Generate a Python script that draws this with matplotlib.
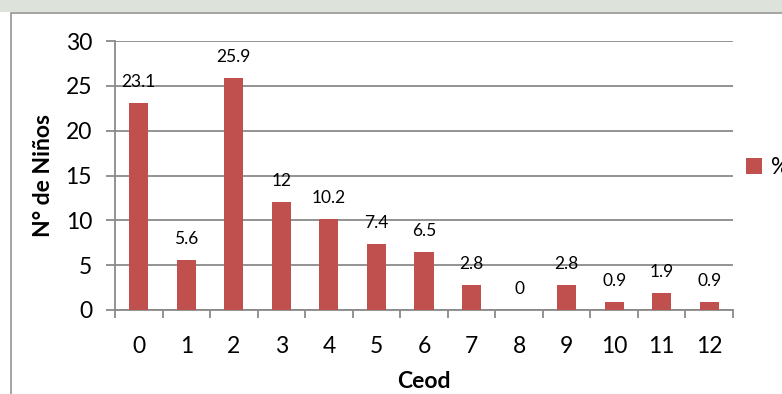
import matplotlib
matplotlib.use("Agg")
import matplotlib.pyplot as plt
from matplotlib.patches import Rectangle
import numpy as np

# Ceod index (number of decayed / extracted / filled primary teeth) and share of children
ceod = [0, 1, 2, 3, 4, 5, 6, 7, 8, 9, 10, 11, 12]
porcentaje = [23.1, 5.6, 25.9, 12, 10.2, 7.4, 6.5, 2.8, 0, 2.8, 0.9, 1.9, 0.9]
y_ticks = [0, 5, 10, 15, 20, 25, 30]
serie = "%"

W, H = 782, 394
plt.rcParams["font.family"] = ["Lato", "DejaVu Sans"]

fig = plt.figure(figsize=(W / 100, H / 100), dpi=100, facecolor="white")

# faint strip above the chart frame and the frame itself
fig.add_artist(Rectangle((0, 1 - 12 / H), 1, 12 / H, transform=fig.transFigure,
                         facecolor="#dde2da", edgecolor="none", zorder=0))
fig.add_artist(Rectangle((10.5 / W, -0.05), 1.1, 1 - 12.5 / H + 0.05,
                         transform=fig.transFigure, facecolor="white",
                         edgecolor="#8c8c8c", linewidth=1.1, zorder=0.5))

left, right = 115 / W, 733 / W
bottom, top = 1 - 310 / H, 1 - 41 / H
ax = fig.add_axes([left, bottom, right - left, top - bottom])
ax.set_zorder(2)
ax.set_facecolor("none")

grid_c = "#8a8a8a"
x = np.arange(len(ceod))
bars = ax.bar(x, porcentaje, width=0.4, color="#C0504D", zorder=3, label=serie)

for xi, v in zip(x, porcentaje):
    ax.annotate(f"{v:g}", (xi, v), xytext=(0, 11.5), textcoords="offset points",
                ha="center", va="baseline", fontsize=12.5, color="black")

ax.set_xlim(-0.5, len(ceod) - 0.5)
ax.set_ylim(0, 30)
ax.set_yticks(y_ticks)
ax.set_yticklabels([str(t) for t in y_ticks], fontsize=16.5)
ax.yaxis.grid(True, color=grid_c, linewidth=1.3, zorder=1)
ax.set_axisbelow(True)

ax.set_xticks(x)
ax.set_xticklabels([str(c) for c in ceod], fontsize=16.5)
ax.set_xticks(np.arange(-0.5, len(ceod), 1), minor=True)
ax.tick_params(axis="x", which="major", length=0, pad=19)
ax.tick_params(axis="x", which="minor", length=5.5, width=1.3, color=grid_c)
ax.tick_params(axis="y", which="major", length=6.5, width=1.3, color=grid_c, pad=10)

for s in ["top", "right"]:
    ax.spines[s].set_visible(False)
for s in ["left", "bottom"]:
    ax.spines[s].set_color(grid_c)
    ax.spines[s].set_linewidth(1.3)

ax.set_ylabel("N° de Niños", fontsize=16.5, fontweight="bold", labelpad=8)
ax.set_xlabel("Ceod", fontsize=16.5, fontweight="bold", labelpad=10)

ax.legend(handles=[bars], loc="center left", bbox_to_anchor=(735 / W, 1 - 167.5 / H),
          bbox_transform=fig.transFigure, frameon=False, borderpad=0,
          handlelength=0.68, handleheight=0.68, handletextpad=0.4, fontsize=16.5)

fig.savefig("out.png", dpi=100, facecolor=fig.get_facecolor())
